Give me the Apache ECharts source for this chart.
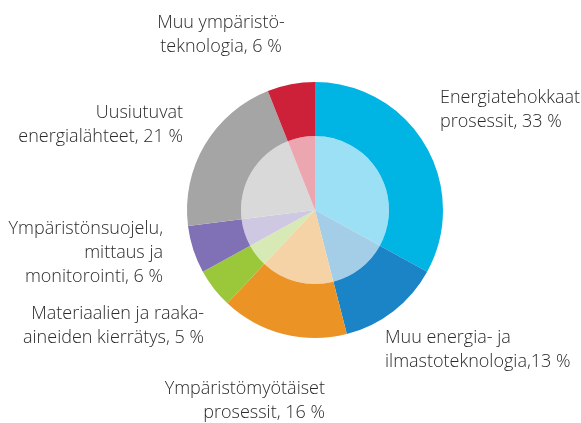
<!DOCTYPE html>
<html><head><meta charset="utf-8">
<script src="https://cdn.jsdelivr.net/npm/echarts@6/dist/echarts.min.js"></script>
<style>html,body{margin:0;padding:0;background:#fff}#c{width:581px;height:423px}</style>
</head><body><div id="c"></div>
<script>
var categories = ["Energiatehokkaat\nprosessit", "Muu energia- ja\nilmastoteknologia,", "Ympäristömyötäiset\nprosessit", "Materiaalien ja raaka-\naineiden kierrätys", "Ympäristönsuojelu,\nmittaus ja\nmonitorointi", "Uusiutuvat\nenergialähteet", "Muu ympäristö-\nteknologia"];
var values = [33, 13, 16, 5, 6, 21, 6];
var outerColors = ["#00B4E4", "#1A84C7", "#EC9325", "#9BC83B", "#8070B5", "#A6A5A6", "#CD2139"];
var innerColors = ["#9BE0F5", "#A4CDE8", "#F5D3A6", "#D7E9B5", "#CFC8E3", "#D9D9D9", "#EBA6AF"];
// label placement (x, y, align)
var labelPos = [[440,110,'left'],[385,350,'left'],[325,401,'right'],[204,326,'right'],[163,253,'right'],[183,125,'right'],[221,35,'center']];

function mk(colors){
  return categories.map(function(n,i){return {name:n, value:values[i], itemStyle:{color:colors[i]}};});
}
var chart = echarts.init(document.getElementById('c'), null, {renderer:'canvas'});
chart.setOption({
  animation:false,
  series:[
    {type:'pie', radius:[0,74], center:[315,210], startAngle:90, clockwise:true, silent:true,
     label:{show:false}, labelLine:{show:false}, data:mk(innerColors)},
    {type:'pie', radius:[74,128], center:[315,210], startAngle:90, clockwise:true, silent:true,
     labelLine:{show:false},
     label:{show:true, position:'outside', overflow:'none', color:'#2a2a2a', fontFamily:'Open Sans', fontWeight:300, fontSize:18, lineHeight:24,
       formatter:function(p){ var sep = p.name.slice(-1)===',' ? '' : ', '; return p.name + sep + p.value + ' %'; }},
     labelLayout:function(p){ var l=labelPos[p.dataIndex]; return {x:l[0], y:l[1], align:l[2], verticalAlign:'middle', hideOverlap:false}; },
     data:mk(outerColors)}
  ]
});
</script></body></html>
